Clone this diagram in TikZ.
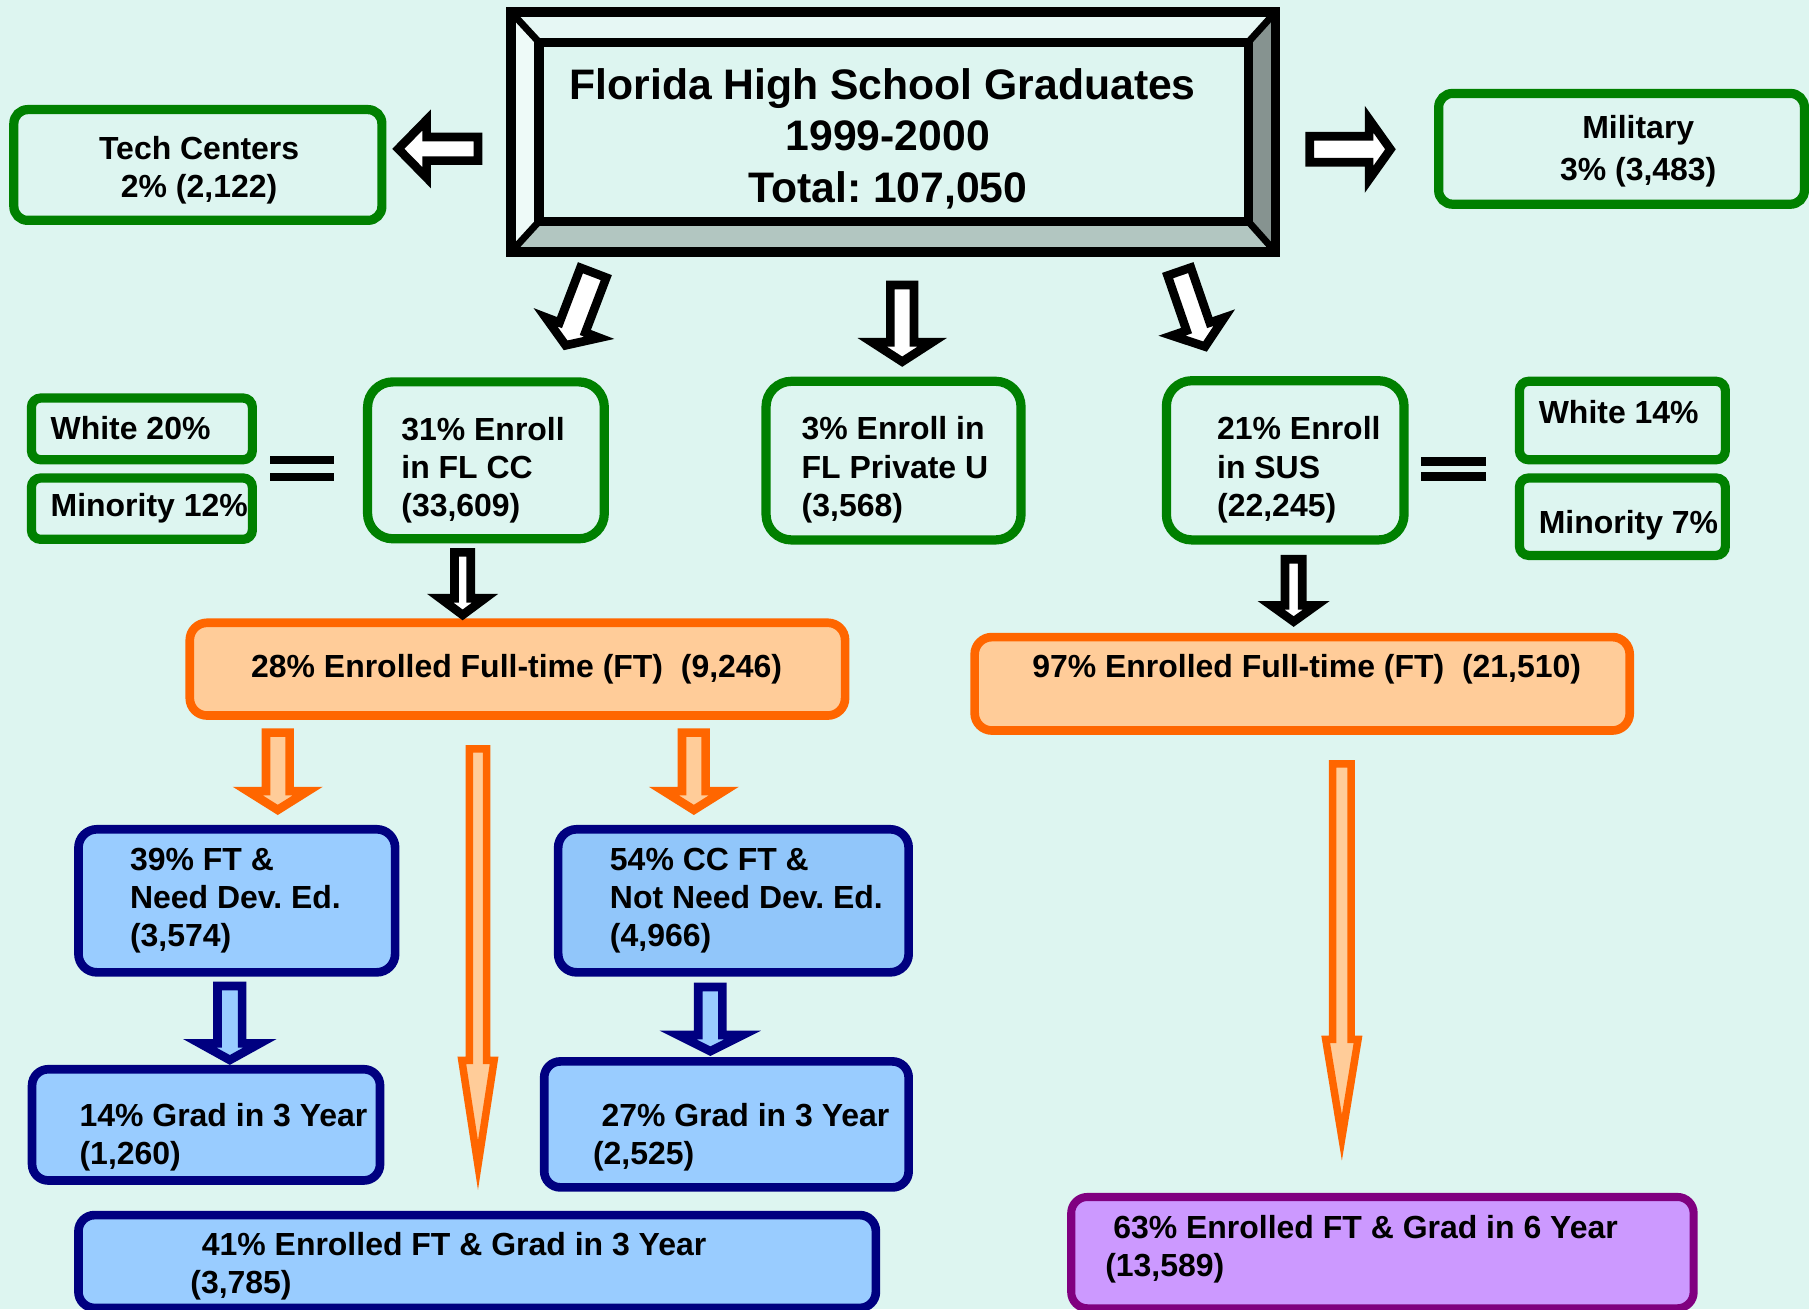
\documentclass[tikz,border=0pt]{standalone}
\usepackage{fontspec}
\setmainfont{Liberation Sans}
\definecolor{bg}{RGB}{221,245,240}
\definecolor{grn}{RGB}{0,128,0}
\definecolor{orgline}{RGB}{255,102,0}
\definecolor{orgfill}{RGB}{255,204,153}
\definecolor{navy}{RGB}{0,0,128}
\definecolor{bluefill}{RGB}{153,204,255}
\definecolor{bluefillB}{RGB}{145,198,250}
\definecolor{purpline}{RGB}{128,0,128}
\definecolor{purpfill}{RGB}{204,153,255}
\definecolor{bvtop}{RGB}{230,247,244}
\definecolor{bvleft}{RGB}{238,250,248}
\definecolor{bvright}{RGB}{134,147,144}
\definecolor{bvbottom}{RGB}{178,198,193}
\newcommand{\blockarrow}[8]{%
  \begin{scope}[shift={(#2,#3)}, rotate=#4]
    \draw[#1] (0,-#7) -- ({#5-#6},-#7) -- ({#5-#6},-#8) -- (#5,0) -- ({#5-#6},#8) -- ({#5-#6},#7) -- (0,#7) -- cycle;
  \end{scope}}
\tikzset{
  every node/.style={inner sep=0pt, outer sep=0pt},
  gbox/.style={draw=grn, line width=4pt, rounded corners=#1},
  gbox/.default=6pt,
  obox/.style={draw=orgline, fill=orgfill, line width=3.75pt, rounded corners=7.5pt},
  bbox/.style={draw=navy, fill=bluefill, line width=3.75pt, rounded corners=#1},
  bbox/.default=7pt,
  pbox/.style={draw=purpline, fill=purpfill, line width=3.5pt, rounded corners=7pt},
  txt/.style={font=\fontsize{13.85}{16.5}\selectfont\bfseries, align=left},
  ctxt/.style={font=\fontsize{13.85}{16.5}\selectfont\bfseries, align=center},
  blk/.style={draw=black, fill=white, line width=3.75pt, line join=miter},
  orgarrow/.style={draw=orgline, fill=orgfill, line width=3.75pt, line join=miter},
  orgthin/.style={draw=orgline, fill=orgfill, line width=3.25pt, line join=miter},
  bluarrow/.style={draw=navy, fill=bluefill, line width=3.75pt, line join=miter},
}
\begin{document}
\frenchspacing
\begin{tikzpicture}[x=0.5pt, y=-0.5pt]
\fill[bg] (0,0) rectangle (1568,1135);
\useasboundingbox (0,0) rectangle (1568,1135);

% ---------- title frame ----------
\path node[minimum width=331.3pt, minimum height=104pt] (frame) at (774.3,114.4) {}
      node[minimum width=307.35pt, minimum height=77.65pt] (title) at (774.55,114.25) {};
\fill[bvtop] (frame.north west) -- (frame.north east) -- (title.north east) -- (title.north west) -- cycle;
\fill[bvleft] (frame.north west) -- (title.north west) -- (title.south west) -- (frame.south west) -- cycle;
\fill[bvright] (frame.north east) -- (frame.south east) -- (title.south east) -- (title.north east) -- cycle;
\fill[bvbottom] (frame.south west) -- (title.south west) -- (title.south east) -- (frame.south east) -- cycle;
\fill[bg] (title.north west) rectangle (title.south east);
\draw[line width=3pt] (frame.north west) -- (title.north west)
  (frame.north east) -- (title.north east)
  (frame.south west) -- (title.south west)
  (frame.south east) -- (title.south east);
\draw[line width=4pt] (frame.north west) rectangle (frame.south east);
\draw[line width=4pt] (title.north west) rectangle (title.south east);
\node[font=\fontsize{18.5}{22.25}\selectfont\bfseries, align=center, anchor=north] (ttext) at (769.5,59.3)
  {Florida High School Graduates\hspace*{4.5pt}\\1999-2000\\Total: 107,050};

% ---------- green boxes ----------
\node[gbox, minimum width=159.5pt, minimum height=48pt] (tech) at (171.5,143) {};
\node[ctxt, anchor=north] (techt) at (172.6,117.8) {Tech Centers\\2\% (2,122)};
\node[gbox, minimum width=158.5pt, minimum height=48pt] (mil) at (1405.5,129) {};
\node[ctxt, anchor=north] (milt) at (1420,100.4) {Military\\[1.5pt]3\% (3,483)};

\node[gbox=11pt, minimum width=102.6pt, minimum height=68pt] (cc) at (421.2,399) {};
\node[txt, anchor=north west] (cct) at (347.9,362) {31\% Enroll\\in FL CC\\(33,609)};
\node[gbox=11pt, minimum width=110.5pt, minimum height=68.75pt] (priv) at (774.5,399.25) {};
\node[txt, anchor=north west] (privt) at (694.9,361.3) {3\% Enroll in\\FL Private U\\(3,568)};
\node[gbox=11pt, minimum width=103pt, minimum height=69pt] (sus) at (1114,399) {};
\node[txt, anchor=north west] (sust) at (1055,361.3) {21\% Enroll\\in SUS\\(22,245)};

\node[gbox=4pt, minimum width=95.75pt, minimum height=26.75pt] (w20) at (123,371.75) {};
\node[txt, anchor=north west] (w20t) at (43.9,360.6) {White 20\%};
\node[gbox=4pt, minimum width=95.75pt, minimum height=26.6pt] (m12) at (123,440.9) {};
\node[txt, anchor=north west] (m12t) at (43.9,428) {Minority 12\%};
\node[gbox=4pt, minimum width=89.25pt, minimum height=34pt] (w14) at (1406.25,364.5) {};
\node[txt, anchor=north west] (w14t) at (1333.8,346.8) {White 14\%};
\node[gbox=4pt, minimum width=89.25pt, minimum height=33.55pt] (m7) at (1406.25,447.85) {};
\node[txt, anchor=north west] (m7t) at (1333.8,442.7) {Minority 7\%};

% equals signs
\fill (234,395.3) rectangle (289.6,402.2);
\fill (234,409.7) rectangle (289.6,416.9);
\fill (1231.7,396.4) rectangle (1288,404);
\fill (1231.7,408.8) rectangle (1288,417);

% ---------- orange boxes ----------
\node[obox, minimum width=284pt, minimum height=40.2pt] (oL) at (448.5,580) {};
\node[ctxt, anchor=north] (oLt) at (447.8,567.4) {28\% Enrolled Full-time (FT)\ \ (9,246)};
\node[obox, minimum width=283.9pt, minimum height=40.5pt] (oR) at (1128.7,592.7) {};
\node[ctxt, anchor=north] (oRt) at (1132.6,567.4) {97\% Enrolled Full-time (FT)\ \ (21,510)};

% ---------- blue boxes ----------
\node[bbox=8pt, minimum width=137.25pt, minimum height=62pt] (bA) at (205.25,780.8) {};
\node[txt, anchor=north west] (bAt) at (112.7,735.4) {39\% FT \&\\Need Dev. Ed.\\(3,574)};
\node[bbox=8pt, fill=bluefillB, minimum width=151.9pt, minimum height=62pt] (bB) at (635.7,780.8) {};
\node[txt, anchor=north west] (bBt) at (528.7,735.4) {54\% CC FT \&\\Not Need Dev. Ed.\\(4,966)};
\node[bbox, minimum width=150.8pt, minimum height=48.2pt] (bC) at (178.6,975) {};
\node[txt, anchor=north west] (bCt) at (69,956.5) {14\% Grad in 3 Year\\(1,260)};
\node[bbox, minimum width=157.95pt, minimum height=54.6pt] (bD) at (629.65,974.6) {};
\node[txt, anchor=north west] (bDt) at (514,956.5) {\hspace*{3.7pt}27\% Grad in 3 Year\\(2,525)};
\node[bbox, minimum width=345.6pt, minimum height=40.25pt] (bE) at (413.6,1093.45) {};
\node[txt, anchor=north west] (bEt) at (165,1068) {\hspace*{5pt}41\% Enrolled FT \& Grad in 3 Year\\(3,785)};

% ---------- purple box ----------
\node[pbox, minimum width=269.75pt, minimum height=48.25pt] (pP) at (1198.25,1085.75) {};
\node[txt, anchor=north west] (pPt) at (958,1053) {\hspace*{3.5pt}63\% Enrolled FT \& Grad in 6 Year\\(13,589)};

% ---------- arrows ----------
\blockarrow{blk}{414.25}{129}{180}{69}{24.5}{10.25}{25}
\blockarrow{blk}{1135.2}{129.4}{0}{70}{18.5}{11.25}{26}
\blockarrow{blk}{514.3}{236.35}{-110.9}{67.4}{16.5}{12}{25}
\blockarrow{blk}{782}{247}{-90}{66.5}{16.8}{10.25}{26}
\blockarrow{blk}{1022.1}{235.4}{-71}{68.75}{18.3}{10.65}{24}
\blockarrow{blk}{401}{478.8}{-90}{54.2}{14.5}{7}{19.5}
\blockarrow{blk}{1121.3}{484.75}{-90}{54}{14}{7.5}{19.5}

\blockarrow{orgarrow}{240.75}{635}{-90}{67}{16.3}{10.25}{26}
\blockarrow{orgarrow}{601.4}{635}{-90}{67}{16.3}{10.25}{26}
\blockarrow{orgthin}{414.3}{649}{-90}{361}{91}{7.4}{14}
\blockarrow{orgthin}{1163.1}{662}{-90}{324}{85}{8}{14}

\blockarrow{bluarrow}{199.2}{854.65}{-90}{64.1}{14.4}{10.65}{26}
\blockarrow{bluarrow}{615.7}{855.45}{-90}{55.7}{14}{10.45}{28}
\end{tikzpicture}
\end{document}
